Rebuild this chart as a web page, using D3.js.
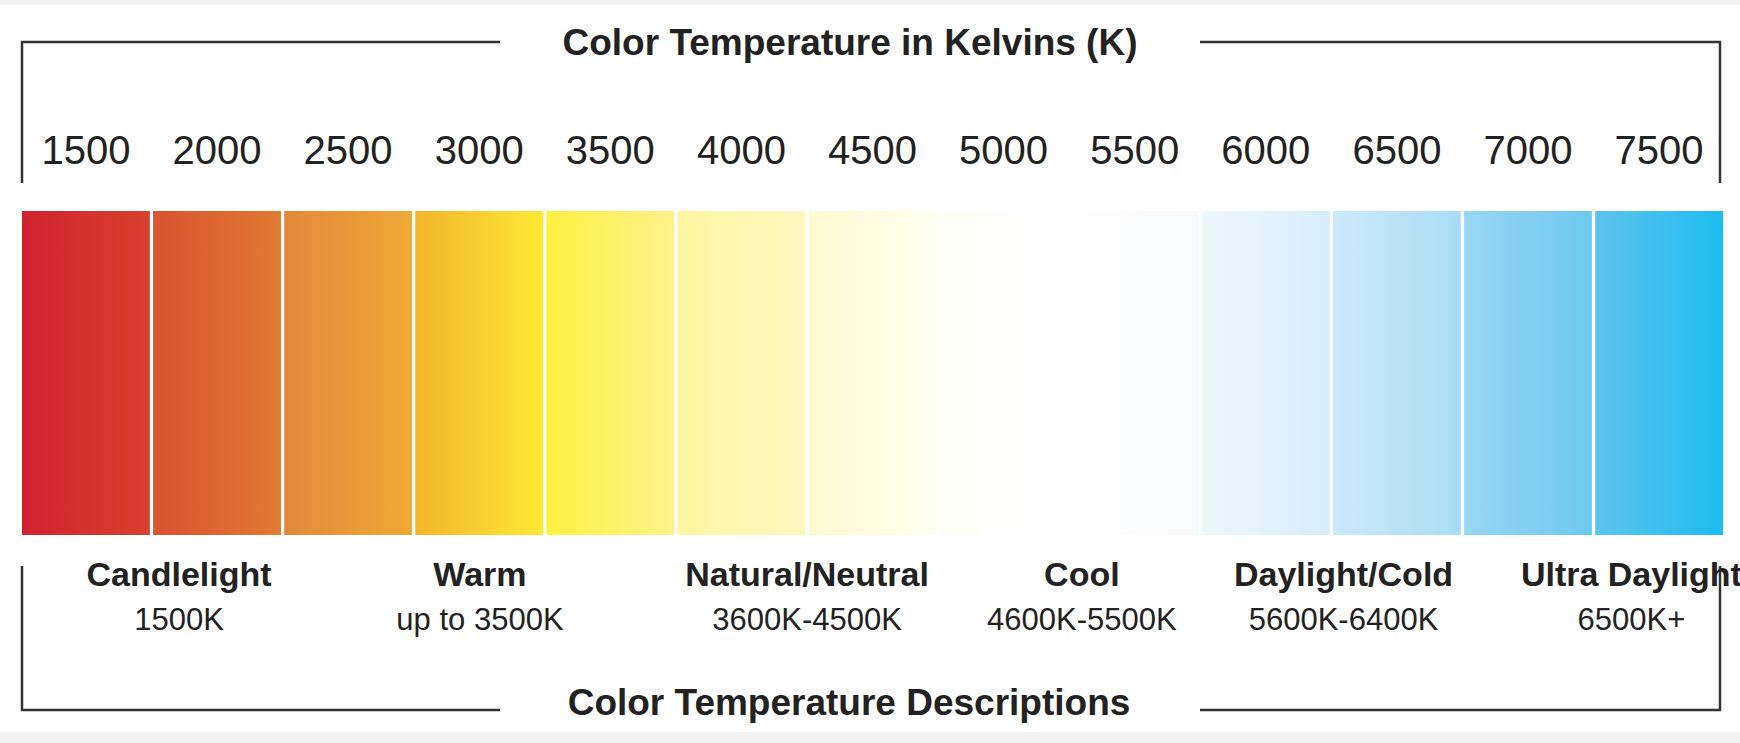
<!DOCTYPE html>
<html>
<head>
<meta charset="utf-8">
<script src="https://cdn.jsdelivr.net/npm/d3@7"></script>
<style>
  body { margin: 0; background: #f2f2f2; }
  text { font-family: "Liberation Sans", Arial, sans-serif; fill: #222; }
</style>
</head>
<body>
<svg id="chart" width="1740" height="743"></svg>
<script>
// kelvin ticks, one per segment
const kelvins = [1500, 2000, 2500, 3000, 3500, 4000, 4500, 5000, 5500, 6000, 6500, 7000, 7500];
// gradient start/end colour of each segment
const startColors = ["#d0222f", "#d95330", "#e2873a", "#f2b52a", "#fef040", "#fef5a0", "#fefad0",
  "#fffef5", "#ffffff", "#eef7fd", "#cceafa", "#98d6f3", "#5fc3ee"];
const endColors = ["#d8412f", "#e07a32", "#eeaa36", "#fde935", "#fef28c", "#fef8c0", "#fffdf0",
  "#ffffff", "#f4fafe", "#d6edfa", "#a8dcf5", "#6dc8ef", "#1cbcef"];
// description groups, positioned by kelvin value
const descNames = ["Candlelight", "Warm", "Natural/Neutral", "Cool", "Daylight/Cold", "Ultra Daylight"];
const descRanges = ["1500K", "up to 3500K", "3600K-4500K", "4600K-5500K", "5600K-6400K", "6500K+"];
const descAt = [1850, 3000, 4250, 5300, 6300, 7400];

const svg = d3.select("#chart");
svg.append("rect").attr("x", 0).attr("y", 5).attr("width", 1740).attr("height", 727).attr("fill", "#fff");

const left = 22, right = 1723;
const x = d3.scaleBand().domain(kelvins).range([left, right]).paddingInner(0.025).paddingOuter(0);
const xk = d3.scaleLinear().domain([1250, 7750]).range([left, right]);

const defs = svg.append("defs");
kelvins.forEach((k, i) => {
  const g = defs.append("linearGradient").attr("id", "g" + i);
  g.append("stop").attr("offset", "0%").attr("stop-color", startColors[i]);
  g.append("stop").attr("offset", "100%").attr("stop-color", endColors[i]);
});

svg.selectAll("rect.seg").data(kelvins).join("rect")
  .attr("class", "seg")
  .attr("x", d => x(d)).attr("y", 211)
  .attr("width", x.bandwidth()).attr("height", 324)
  .attr("fill", (d, i) => `url(#g${i})`);

// tick labels
svg.selectAll("text.tick").data(kelvins).join("text")
  .attr("class", "tick")
  .attr("x", d => x(d) + x.bandwidth() / 2).attr("y", 164)
  .attr("text-anchor", "middle").attr("font-size", 40)
  .text(d => d);

// brackets
const line = (pts) => svg.append("path").attr("d", d3.line()(pts))
  .attr("fill", "none").attr("stroke", "#333").attr("stroke-width", 2.5);
line([[22, 183], [22, 42], [500, 42]]);
line([[1200, 42], [1720, 42], [1720, 183]]);
line([[22, 566], [22, 710], [500, 710]]);
line([[1200, 710], [1720, 710], [1720, 566]]);

const topTitle = svg.append("text").attr("x", 850).attr("y", 55).attr("text-anchor", "middle")
  .attr("font-size", 37).attr("font-weight", "bold").text("Color Temperature in Kelvins (K)");
const botTitle = svg.append("text").attr("x", 849).attr("y", 715).attr("text-anchor", "middle")
  .attr("font-size", 37).attr("font-weight", "bold").text("Color Temperature Descriptions");

// white knock-outs behind titles
[topTitle, botTitle].forEach(t => {
  const b = t.node().getBBox();
  svg.insert("rect", "text").attr("x", b.x - 8).attr("y", b.y).attr("width", b.width + 16)
    .attr("height", b.height).attr("fill", "#fff");
});

svg.selectAll("text.dn").data(descNames).join("text")
  .attr("class", "dn")
  .attr("x", (d, i) => xk(descAt[i])).attr("y", 586)
  .attr("text-anchor", "middle").attr("font-size", 34).attr("font-weight", "bold")
  .text(d => d);
svg.selectAll("text.dr").data(descRanges).join("text")
  .attr("class", "dr")
  .attr("x", (d, i) => xk(descAt[i])).attr("y", 630)
  .attr("text-anchor", "middle").attr("font-size", 31)
  .text(d => d);
</script>
</body>
</html>
